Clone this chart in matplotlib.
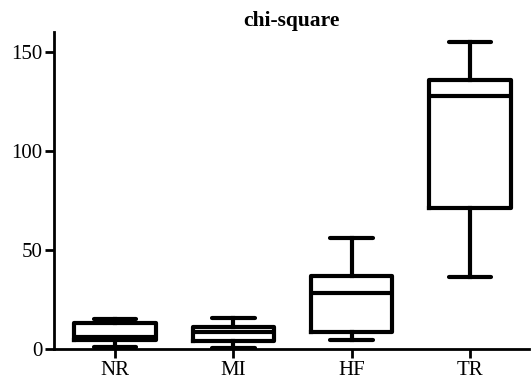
import matplotlib
matplotlib.use("Agg")
import matplotlib.pyplot as plt

categories = ["NR", "MI", "HF", "TR"]
whisker_lo = [0.8, 0.6, 4.2, 36.5]
q1 = [4.2, 3.8, 8.5, 71.0]
median = [6.0, 8.5, 28.0, 127.8]
q3 = [12.8, 11.2, 37.0, 135.8]
whisker_hi = [14.8, 15.8, 56.0, 155.0]

yticks = [0, 50, 100, 150]

plt.rcParams['font.family'] = ['Liberation Serif', 'DejaVu Serif']

fig = plt.figure(figsize=(5.31, 3.91), dpi=100)
ax = fig.add_axes([0.1017, 0.108, 0.8953, 0.8094])

stats = []
for i in range(len(categories)):
  stats.append(dict(label=categories[i], whislo=whisker_lo[i], q1=q1[i],
                    med=median[i], q3=q3[i], whishi=whisker_hi[i], fliers=[]))

lw = 3.0
ax.bxp(stats, positions=range(1, len(categories) + 1), widths=0.69, capwidths=0.36,
       showfliers=False,
       boxprops=dict(color="black", linewidth=lw),
       medianprops=dict(color="black", linewidth=lw),
       whiskerprops=dict(color="black", linewidth=lw),
       capprops=dict(color="black", linewidth=lw, solid_capstyle="round"))

ax.set_xlim(0.484, 4.503)
ax.set_ylim(0, 160)
ax.set_yticks(yticks)
ax.set_xticks(range(1, len(categories) + 1))
ax.set_xticklabels(categories)

for side in ["top", "right"]:
  ax.spines[side].set_visible(False)
for side in ["left", "bottom"]:
  ax.spines[side].set_linewidth(2.0)

ax.tick_params(axis="both", direction="out", length=6.8, width=2.0, labelsize=15)
ax.tick_params(axis="y", pad=1.5)
ax.tick_params(axis="x", pad=2)

ax.set_title("chi-square", fontsize=15.5, fontweight="bold", pad=4.5)

fig.savefig("out.png", dpi=100)
